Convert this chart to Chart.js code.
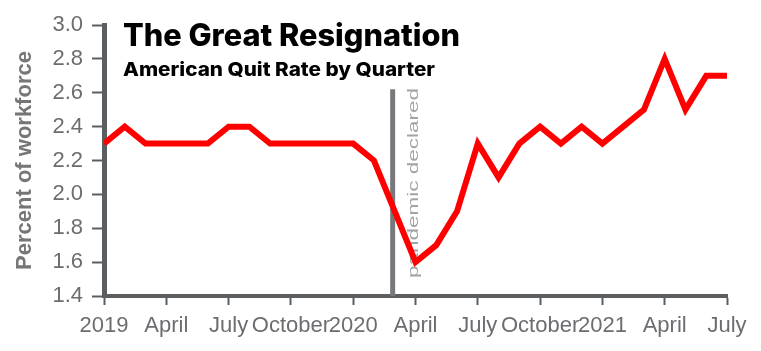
<!DOCTYPE html>
<html>
<head>
<meta charset="utf-8">
<script src="https://cdn.jsdelivr.net/npm/chart.js@4"></script>
<style>
  html, body { margin: 0; padding: 0; background: #fff; }
</style>
</head>
<body>
<canvas id="quits" width="761" height="351"></canvas>
<script>
// =============================================
//   DATA
// =============================================
// x-axis labels, one every 3 months starting Jan 2019
const MONTH_LABELS = ['2019', 'April', 'July', 'October', '2020', 'April', 'July', 'October', '2021', 'April', 'July'];
// monthly quit rate (% of workforce), Jan 2019 .. Jul 2021
const QUIT_RATE = [
  2.3, 2.4, 2.3, 2.3, 2.3, 2.3, 2.4, 2.4, 2.3, 2.3, 2.3, 2.3,
  2.3, 2.2, 1.9, 1.6, 1.7, 1.9, 2.3, 2.1, 2.3, 2.4, 2.3, 2.4,
  2.3, 2.4, 2.5, 2.8, 2.5, 2.7, 2.7
];
const Y_MIN = 1.4, Y_MAX = 3.0, Y_STEP = 0.2;
// pandemic marker (month index from Jan 2019) and how high it goes
const PANDEMIC_MONTH = 13.9;
const PANDEMIC_TOP = 2.62;

const TITLE = 'The Great Resignation';
const SUBTITLE = 'American Quit Rate by Quarter';
const PANDEMIC_LABEL = 'pandemic declared';
const Y_TITLE = 'Percent of workforce';

const AXIS = '#5c5f62';
const TICK_FONT = { family: '"Liberation Sans", Arial, sans-serif', size: 22 };

// title, subtitle and the rotated marker label
const overlay = {
  id: 'overlay',
  beforeDatasetsDraw(chart) {
    const { ctx, scales: { x, y } } = chart;
    ctx.save();
    ctx.font = '15px "Liberation Sans", Arial, sans-serif';
    const w = ctx.measureText(PANDEMIC_LABEL).width;
    ctx.translate(x.getPixelForValue(PANDEMIC_MONTH) + 25, y.getPixelForValue(Y_MIN) - 18);
    ctx.rotate(-Math.PI / 2);
    ctx.scale(190 / w, 1);
    ctx.fillStyle = '#a2a4a7';
    ctx.textBaseline = 'alphabetic';
    ctx.fillText(PANDEMIC_LABEL, 0, 0);
    ctx.restore();
  },
  afterDraw(chart) {
    const ctx = chart.ctx;
    const put = (txt, size, left, base, width) => {
      ctx.save();
      ctx.font = '800 ' + size + 'px Inter, "Noto Sans", sans-serif';
      const w = ctx.measureText(txt).width;
      ctx.translate(left, base);
      ctx.scale(width / w, 1);
      ctx.fillStyle = '#000';
      ctx.textBaseline = 'alphabetic';
      ctx.fillText(txt, 0, 0);
      ctx.restore();
    };
    put(TITLE, 31, 123, 46, 337);
    put(SUBTITLE, 19, 123, 75.5, 312);
  }
};

new Chart(document.getElementById('quits'), {
  type: 'line',
  data: {
    datasets: [
      {
        data: QUIT_RATE.map((v, i) => ({ x: i, y: v })),
        borderColor: '#ff0000', borderWidth: 6, pointRadius: 0, tension: 0
      },
      {
        data: [{ x: PANDEMIC_MONTH, y: Y_MIN }, { x: PANDEMIC_MONTH, y: PANDEMIC_TOP }],
        borderColor: '#76787b', borderWidth: 5, pointRadius: 0
      }
    ]
  },
  options: {
    responsive: false, animation: false,
    layout: { padding: { top: 25, right: 34, bottom: 0, left: 0 } },
    plugins: { legend: { display: false }, tooltip: { enabled: false } },
    scales: {
      x: {
        type: 'linear', min: 0, max: QUIT_RATE.length - 1,
        afterFit: s => { s.height = 55; },
        grid: { drawOnChartArea: false, tickLength: 9, tickWidth: 2, tickColor: AXIS },
        border: { color: AXIS, width: 4 },
        ticks: {
          stepSize: 3, autoSkip: false, maxRotation: 0, minRotation: 0, padding: 8,
          color: '#6b6d70', font: TICK_FONT,
          callback: v => MONTH_LABELS[v / 3]
        }
      },
      y: {
        min: Y_MIN, max: Y_MAX,
        afterFit: s => { s.width = 104; },
        grid: { drawOnChartArea: false, tickLength: 12, tickWidth: 2, tickColor: AXIS },
        border: { color: AXIS, width: 5 },
        ticks: {
          stepSize: Y_STEP, padding: 9, color: '#6b6d70', font: TICK_FONT,
          callback: v => Number(v).toFixed(1)
        },
        title: {
          display: true, text: Y_TITLE, color: '#767676', padding: { top: 12, bottom: 0 },
          font: { family: '"Liberation Sans", Arial, sans-serif', size: 22, weight: 'bold' }
        }
      }
    }
  },
  plugins: [overlay]
});
</script>
</body>
</html>
